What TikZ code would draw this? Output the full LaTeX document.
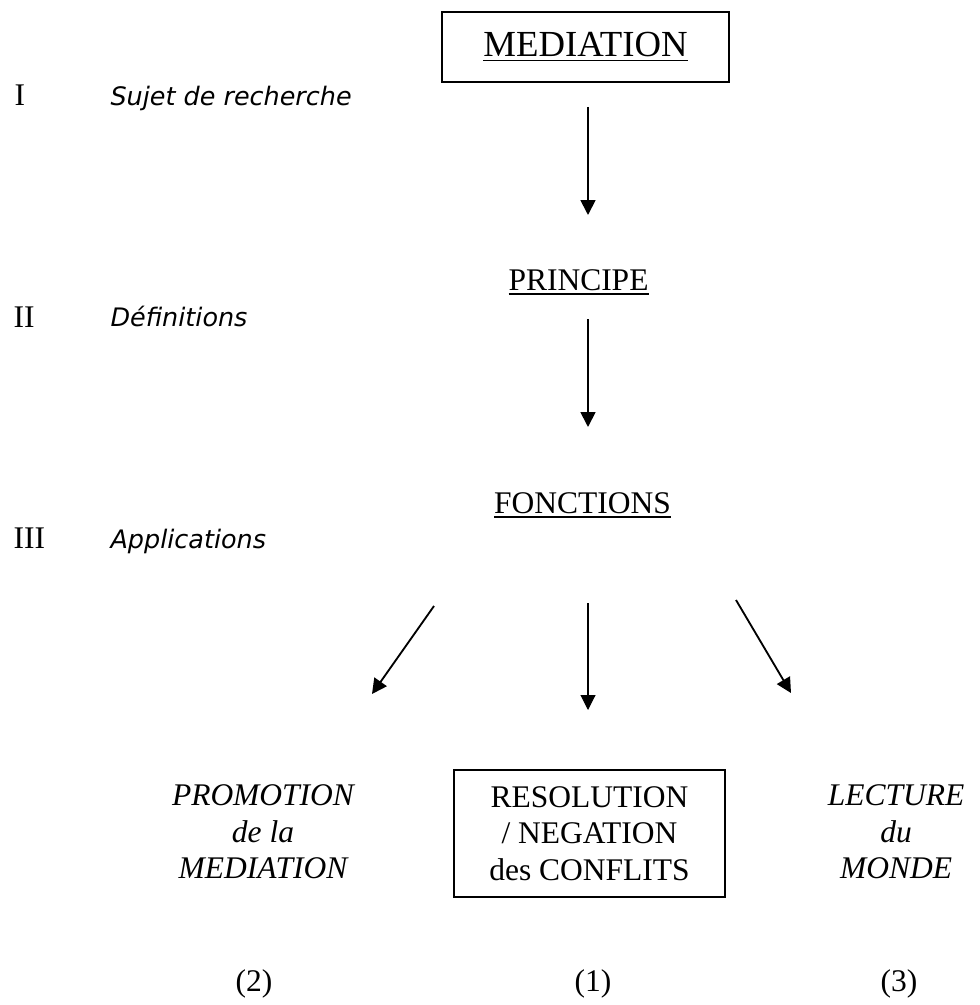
\documentclass[tikz,border=0pt]{standalone}
\usepackage{fontspec}
\setmainfont{Liberation Serif}
\newfontfamily\handfont{DejaVu Sans}
\usetikzlibrary{arrows.meta}

\begin{document}
\begin{tikzpicture}[x=0.381pt, y=-0.381pt]
\useasboundingbox (0,0) rectangle (980,1005);

\begin{scope}[every node/.style={inner sep=0pt, font=\fontsize{12}{13.9}\selectfont}]
    \node (med) at (585.5, 47) [draw, line width=0.6pt, minimum width=109.3pt, minimum height=26.7pt, font=\fontsize{14}{16}\selectfont] {\underline{MEDIATION}};
    \node (princ) at (578.5, 290) [anchor=base] {\underline{PRINCIPE}};
    \node (fonct) at (582.5, 513) [anchor=base] {\underline{FONCTIONS}};

    \node (n1) at (14, 106) [anchor=base west] {I};
    \node (n2) at (13, 327) [anchor=base west] {II};
    \node (n3) at (13, 548) [anchor=base west] {III};

    \node (sujet) at (110, 106) [anchor=base west, font=\handfont\itshape\fontsize{9.7}{12}\selectfont] {Sujet de recherche};
    \node (defin) at (110, 326) [anchor=base west, font=\handfont\itshape\fontsize{9.7}{12}\selectfont] {Définitions};
    \node (appli) at (110, 548) [anchor=base west, font=\handfont\itshape\fontsize{9.7}{12}\selectfont] {Applications};

    \node (promo) at (263, 832) [align=center, font=\itshape\fontsize{12}{13.9}\selectfont] {PROMOTION\\de la\\MEDIATION};
    \node (resol) at (589.5, 833.5) [draw, line width=0.6pt, align=center, minimum width=103.3pt, minimum height=48.4pt] {RESOLUTION\\/ NEGATION\\des CONFLITS};
    \node (lect) at (896, 832) [align=center, font=\itshape\fontsize{12}{13.9}\selectfont] {LECTURE\\du\\MONDE};

    \node (p2) at (254, 991) [anchor=base] {(2)};
    \node (p1) at (593, 991) [anchor=base] {(1)};
    \node (p3) at (899, 991) [anchor=base] {(3)};
\end{scope}

% arrow ends
\coordinate (a1) at (588, 107);
\coordinate (b1) at (588, 215);
\coordinate (a2) at (588, 319);
\coordinate (b2) at (588, 427);
\coordinate (a3) at (434, 606);
\coordinate (b3) at (372, 694);
\coordinate (a4) at (588, 603);
\coordinate (b4) at (588, 710);
\coordinate (a5) at (736, 600);
\coordinate (b5) at (791, 693);

\begin{scope}[>={Triangle[length=5.7pt, width=5.7pt]},
              every edge/.style={draw=black, line width=0.7pt}]
    \path [->] (a1) edge (b1);
    \path [->] (a2) edge (b2);

    \path [->] (a3) edge (b3);
    \path [->] (a4) edge [line width=0.4pt] (b4);
    \path [->] (a5) edge (b5);
\end{scope}
\end{tikzpicture}
\end{document}
